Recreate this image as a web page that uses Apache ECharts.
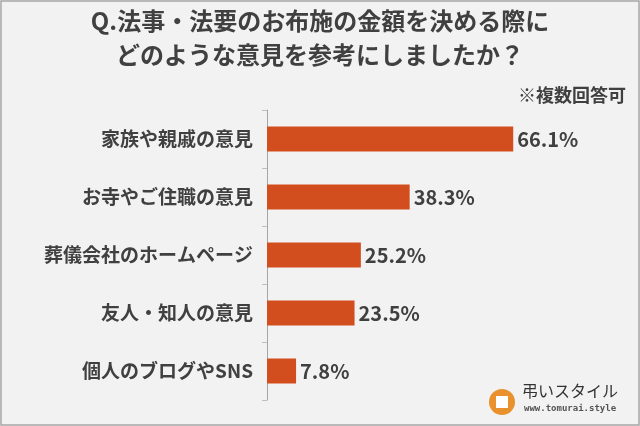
<!DOCTYPE html>
<html lang="ja">
<head>
<meta charset="UTF-8">
<script src="https://cdn.jsdelivr.net/npm/echarts@6/dist/echarts.min.js"></script>
<style>html,body{margin:0;padding:0;background:#fff}</style>
</head>
<body>
<div id="chart" style="width:640px;height:426px;"></div>
<script>
var categories = ['家族や親戚の意見', 'お寺やご住職の意見', '葬儀会社のホームページ', '友人・知人の意見', '個人のブログやSNS'];
var values = [66.1, 38.3, 25.2, 23.5, 7.8];

var chart = echarts.init(document.getElementById('chart'));
var font = '"Noto Sans CJK JP", sans-serif';
chart.setOption({
    animation: false,
    backgroundColor: '#f2f2f2',
    textStyle: { fontFamily: font },
    graphic: [
        { type: 'rect', shape: { x: 1, y: 1, width: 638, height: 424 },
          style: { fill: 'none', stroke: '#a6a6a6', lineWidth: 1.5 } },
        { type: 'text', left: 'center', top: 4,
          style: { text: 'Q.法事・法要のお布施の金額を決める際に\nどのような意見を参考にしましたか？', fill: '#404040',
                   font: 'bold 24px ' + font, textAlign: 'center', lineHeight: 34 } },
        { type: 'text', right: 14, top: 86,
          style: { text: '※複数回答可', fill: '#404040', font: 'bold 18px ' + font } },
        { type: 'circle', shape: { cx: 502, cy: 402, r: 13 }, style: { fill: '#e8912d' } },
        { type: 'rect', shape: { x: 496, y: 396, width: 12, height: 12 }, style: { fill: '#fff' } },
        { type: 'text', x: 522, y: 383,
          style: { text: '弔いスタイル', fill: '#333', font: '16px ' + font } },
        { type: 'text', x: 524, y: 404,
          style: { text: 'www.tomurai.style', fill: '#555', font: 'bold 9px "DejaVu Sans Mono", monospace' } }
    ],
    grid: { left: 267, right: 75, top: 110, bottom: 26 },
    xAxis: { type: 'value', min: 0, max: 80, show: false },
    yAxis: {
        type: 'category', inverse: true, data: categories,
        axisTick: { show: true, length: 5, lineStyle: { color: '#bfbfbf' } },
        axisLine: { lineStyle: { color: '#a6a6a6', width: 1 } },
        axisLabel: { color: '#404040', fontSize: 19, fontWeight: 'bold', margin: 14 }
    },
    series: [{
        type: 'bar', data: values, barWidth: 25,
        itemStyle: { color: '#d24e1e' },
        label: { show: true, position: 'right', formatter: '{c}%', color: '#404040',
                 fontSize: 20, fontWeight: 'bold', distance: 4 }
    }]
});
</script>
</body>
</html>
